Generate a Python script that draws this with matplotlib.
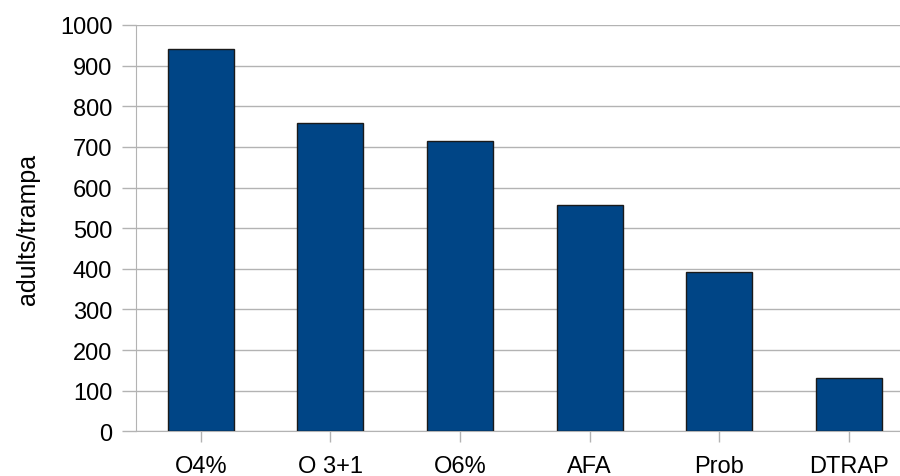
import matplotlib.pyplot as plt

categories = ['O4%', 'O 3+1', 'O6%', 'AFA', 'Prob', 'DTRAP']
values = [940, 760, 714, 558, 392, 132]
y_ticks = [0, 100, 200, 300, 400, 500, 600, 700, 800, 900, 1000]

plt.rcParams['font.family'] = ['Liberation Sans', 'DejaVu Sans']

fig = plt.figure(figsize=(9, 4.77), dpi=100)
ax = fig.add_axes([0.151, 0.0937, 0.8643, 0.8518])

x = range(len(categories))
ax.bar(x, values, width=0.51, color='#004586', edgecolor='#1a1a1a', linewidth=1, zorder=3)

ax.set_xlim(-0.5, len(categories) - 0.5)
ax.set_ylim(0, 1000)
ax.set_yticks(y_ticks)
ax.set_xticks(list(x))
ax.set_xticklabels(categories)
ax.yaxis.grid(True, color='#b3b3b3', linewidth=1, zorder=0)

for side in ['top', 'right']:
    ax.spines[side].set_visible(False)
ax.spines['left'].set_color('#b3b3b3')
ax.spines['bottom'].set_color('#b3b3b3')
# tick lengths in points (14 px and 11 px at dpi 100)
ax.tick_params(axis='y', length=10, color='#b3b3b3', width=1, pad=7, labelsize=17)
ax.tick_params(axis='x', length=8, color='#b3b3b3', width=1, pad=9, labelsize=17)

ax.set_ylabel('adults/trampa', fontsize=18, labelpad=14)

fig.savefig('out.png', dpi=100)
